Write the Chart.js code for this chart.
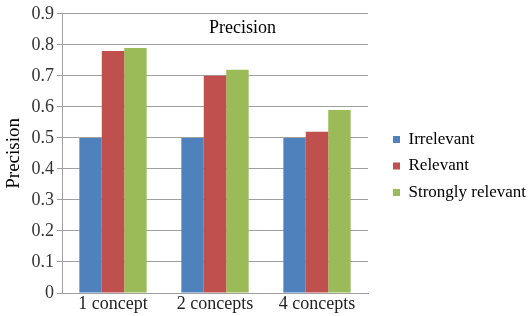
<!DOCTYPE html>
<html>
<head>
<meta charset="utf-8">
<script src="https://cdn.jsdelivr.net/npm/chart.js@4/dist/chart.umd.min.js"></script>
<style>
html,body{margin:0;padding:0;background:#fff;}
#wrap{width:530px;height:316px;position:relative;}
</style>
</head>
<body>
<div id="wrap"><canvas id="c" width="530" height="316"></canvas></div>
<script>
const categories = ["1 concept", "2 concepts", "4 concepts"];
const irrelevant = [0.5, 0.5, 0.5];
const relevant = [0.78, 0.70, 0.52];
const stronglyRelevant = [0.79, 0.72, 0.59];
const yTicks = [0, 0.1, 0.2, 0.3, 0.4, 0.5, 0.6, 0.7, 0.8, 0.9];
const seriesNames = ["Irrelevant", "Relevant", "Strongly relevant"];
const chartTitle = "Precision";
const yTitle = "Precision";

const FONT = "'Liberation Serif', 'Times New Roman', serif";
const GRID = '#a0a0a0';

const titlePlugin = {
  id: 'innerTitle',
  afterDraw(chart) {
    const ctx = chart.ctx;
    const a = chart.chartArea;
    ctx.save();
    ctx.font = '18px ' + FONT;
    ctx.fillStyle = '#000';
    ctx.textAlign = 'center';
    ctx.textBaseline = 'middle';
    ctx.fillText(chartTitle, a.left + (a.right - a.left) * 0.59, a.top + 14);
    ctx.restore();
  }
};

const legendPlace = {
  id: 'legendPlace',
  afterLayout(chart) {
    const lg = chart.legend;
    if (!lg) return;
    lg.left = 393 - lg.options.labels.padding;
    lg.top += 4;
    lg.bottom += 4;
  }
};

const chart = new Chart(document.getElementById('c'), {
  type: 'bar',
  data: {
    labels: categories,
    datasets: [
      { label: seriesNames[0], data: irrelevant, backgroundColor: '#4F81BD' },
      { label: seriesNames[1], data: relevant, backgroundColor: '#C0504D' },
      { label: seriesNames[2], data: stronglyRelevant, backgroundColor: '#9BBB59' }
    ]
  },
  plugins: [titlePlugin, legendPlace],
  options: {
    responsive: false,
    animation: false,
    devicePixelRatio: 1,
    layout: { padding: { top: 8, right: 0, bottom: 0, left: 0 } },
    datasets: { bar: { categoryPercentage: 0.66, barPercentage: 1 } },
    plugins: {
      title: { display: false },
      tooltip: { enabled: false },
      legend: {
        position: 'right',
        align: 'center',
        labels: {
          font: { family: FONT, size: 17 },
          color: '#000',
          boxWidth: 7,
          boxHeight: 7,
          padding: 9.5
        }
      }
    },
    scales: {
      x: {
        grid: { display: true, drawOnChartArea: false, drawTicks: false, color: GRID },
        border: { display: true, color: GRID, width: 1 },
        ticks: { font: { family: FONT, size: 18 }, color: '#222', padding: 0 },
        afterFit(s) { s.height = 23; }
      },
      y: {
        min: 0,
        max: 0.9,
        afterBuildTicks(s) { s.ticks = yTicks.map(v => ({ value: v })); },
        grid: { color: GRID, tickLength: 5, lineWidth: 1 },
        border: { display: true, color: GRID, width: 1 },
        ticks: {
          font: { family: FONT, size: 18 },
          color: '#333',
          padding: 3,
          callback: v => String(Math.round(v * 10) / 10)
        },
        title: {
          display: true,
          text: yTitle,
          font: { family: FONT, size: 19 },
          color: '#000',
          padding: { top: 3, bottom: 0 }
        },
        afterFit(s) { s.width = 62; }
      }
    }
  }
});

const lg = chart.legend;
const origFit = lg.fit.bind(lg);
lg.fit = function () { origFit(); this.width = 530 - 368; };
chart.update();
</script>
</body>
</html>
